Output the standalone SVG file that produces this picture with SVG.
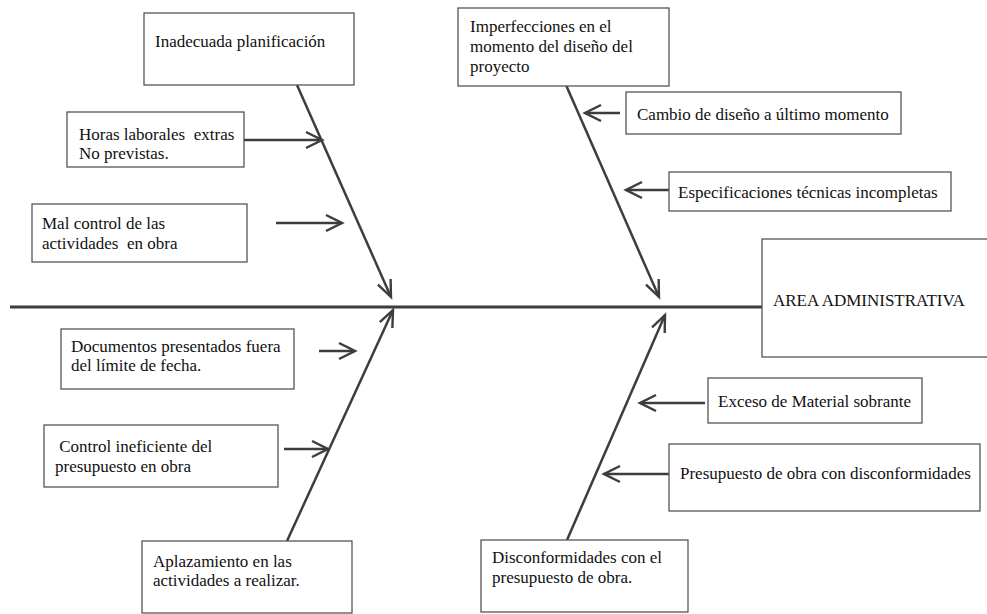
<svg xmlns="http://www.w3.org/2000/svg" width="987" height="614" viewBox="0 0 987 614">
<defs>
<marker id="ah" markerUnits="userSpaceOnUse" markerWidth="24" markerHeight="24" refX="0" refY="0" viewBox="-20 -12 24 24" orient="auto" overflow="visible">
<path d="M-16,-8 L0,0 L-16,8" fill="none" stroke="#3d3d3d" stroke-width="2.5" stroke-linejoin="miter"/>
</marker>
<marker id="ahd" markerUnits="userSpaceOnUse" markerWidth="24" markerHeight="24" refX="0" refY="0" viewBox="-22 -12 26 24" orient="auto" overflow="visible">
<path d="M-18,-7.5 L0,0 L-18,7.5" fill="none" stroke="#3d3d3d" stroke-width="2.6" stroke-linejoin="miter"/>
</marker>
</defs>
<style>
.box{fill:#fff;stroke:#555;stroke-width:1.3}
.t{font-family:"Liberation Serif","Times New Roman",serif;font-size:17px;fill:#111;white-space:pre}
.ln{stroke:#3d3d3d;stroke-width:2.5;fill:none}
.sp{stroke:#3d3d3d;stroke-width:3;fill:none}
</style>
<rect width="987" height="614" fill="#fff"/>
<g id="connectors">
<line class="sp" x1="10" y1="307" x2="762" y2="307"/>
<line class="ln" x1="297" y1="85" x2="391" y2="297" marker-end="url(#ahd)"/>
<line class="ln" x1="566" y1="85" x2="659" y2="297" marker-end="url(#ahd)"/>
<line class="ln" x1="287" y1="541" x2="393" y2="310" marker-end="url(#ahd)"/>
<line class="ln" x1="567" y1="540" x2="665" y2="315" marker-end="url(#ahd)"/>
<line class="ln" x1="244" y1="140" x2="322" y2="140" marker-end="url(#ah)"/>
<line class="ln" x1="276" y1="223" x2="342" y2="223" marker-end="url(#ah)"/>
<line class="ln" x1="319" y1="351" x2="355" y2="351" marker-end="url(#ah)"/>
<line class="ln" x1="284" y1="449" x2="328" y2="449" marker-end="url(#ah)"/>
<line class="ln" x1="620" y1="113" x2="585" y2="113" marker-end="url(#ah)"/>
<line class="ln" x1="669" y1="190" x2="626" y2="190" marker-end="url(#ah)"/>
<line class="ln" x1="705" y1="403" x2="640" y2="403" marker-end="url(#ah)"/>
<line class="ln" x1="669" y1="474" x2="604" y2="474" marker-end="url(#ah)"/>
</g>
<g id="inadecuada">
<rect class="box" x="144" y="13" width="210" height="72"/>
<text class="t" x="155" y="47">Inadecuada planificación</text>
</g>
<g id="horas">
<rect class="box" x="67" y="112" width="177" height="55"/>
<text class="t" x="79" y="140" xml:space="preserve">Horas laborales  extras</text>
<text class="t" x="79" y="159">No previstas.</text>
</g>
<g id="malcontrol">
<rect class="box" x="32" y="204" width="215" height="58"/>
<text class="t" x="42" y="229">Mal control de las</text>
<text class="t" x="42" y="249" xml:space="preserve">actividades  en obra</text>
</g>
<g id="imperfecciones">
<rect class="box" x="458" y="8" width="211" height="78"/>
<text class="t" x="470" y="32">Imperfecciones en el</text>
<text class="t" x="470" y="52">momento del diseño del</text>
<text class="t" x="470" y="72">proyecto</text>
</g>
<g id="cambio">
<rect class="box" x="626" y="92" width="275" height="42"/>
<text class="t" x="637" y="120">Cambio de diseño a último momento</text>
</g>
<g id="especificaciones">
<rect class="box" x="669" y="172" width="282" height="39"/>
<text class="t" x="678" y="198">Especificaciones técnicas incompletas</text>
</g>
<g id="area">
<rect class="box" x="762" y="239" width="240" height="118" stroke-width="2.2" stroke="#444"/>
<text class="t" x="773" y="306">AREA ADMINISTRATIVA</text>
</g>
<g id="documentos">
<rect class="box" x="61" y="329" width="233" height="60"/>
<text class="t" x="71" y="352">Documentos presentados fuera</text>
<text class="t" x="71" y="371">del límite de fecha.</text>
</g>
<g id="controlineficiente">
<rect class="box" x="44" y="425" width="234" height="62"/>
<text class="t" x="55" y="452" xml:space="preserve"> Control ineficiente del</text>
<text class="t" x="55" y="472">presupuesto en obra</text>
</g>
<g id="aplazamiento">
<rect class="box" x="142" y="541" width="210" height="72"/>
<text class="t" x="153" y="567">Aplazamiento en las</text>
<text class="t" x="153" y="586">actividades a realizar.</text>
</g>
<g id="exceso">
<rect class="box" x="708" y="378" width="214" height="45"/>
<text class="t" x="718" y="407">Exceso de Material sobrante</text>
</g>
<g id="presupuesto">
<rect class="box" x="669" y="444" width="311" height="67"/>
<text class="t" x="680" y="479">Presupuesto de obra con disconformidades</text>
</g>
<g id="disconformidades">
<rect class="box" x="481" y="540" width="207" height="72"/>
<text class="t" x="492" y="563">Disconformidades con el</text>
<text class="t" x="492" y="583">presupuesto de obra.</text>
</g>
</svg>
